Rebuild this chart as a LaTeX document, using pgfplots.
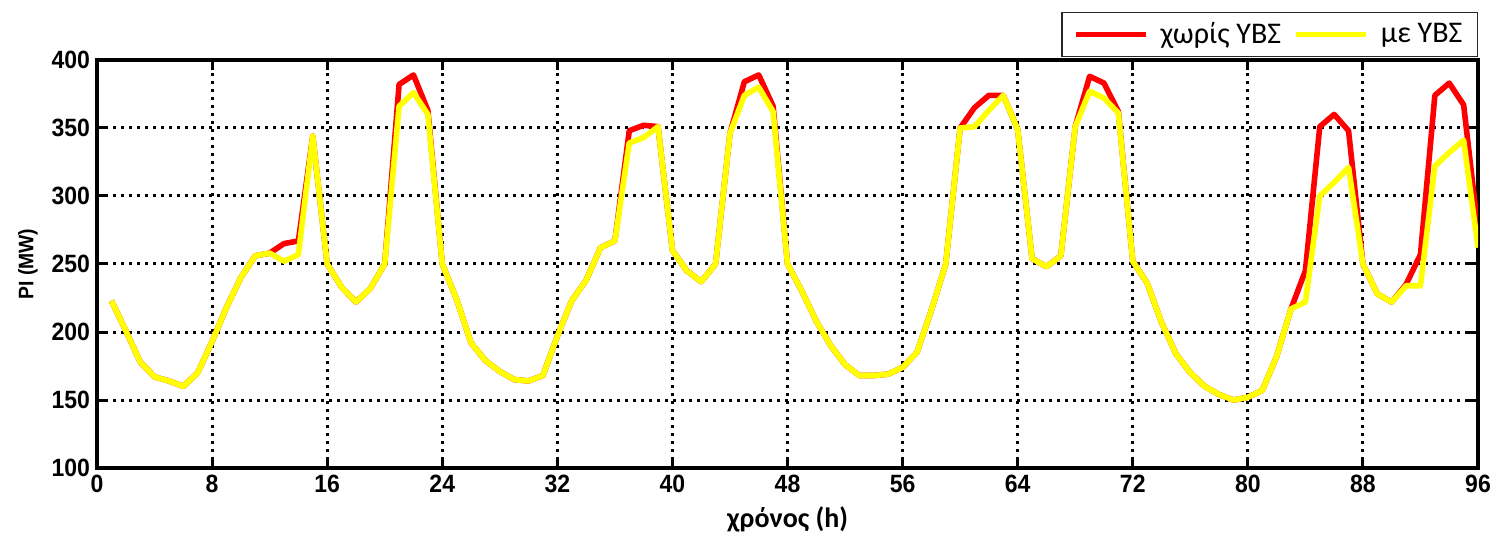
\documentclass[border=0pt]{standalone}
\usepackage{fontspec}
\setmainfont{Liberation Sans}
\newfontfamily\tickfont[FakeStretch=0.92]{Liberation Sans}
\newfontfamily\labfont{Carlito}
\usepackage{pgfplots}
\pgfplotsset{compat=1.18}
\definecolor{myred}{RGB}{255,0,0}
\definecolor{myyel}{RGB}{255,255,0}
\pgfplotstableread{
h red yel
1 223 223
2 201 201
3 178 178
4 167 167
5 164 164
6 160 160
7 170 170
8 193 193
9 218 218
10 240 240
11 256 256
12 258 258
13 265 252
14 267 257
15 344 344
16 250 250
17 233 233
18 222 222
19 232 232
20 250 250
21 382 366
22 389 376
23 363 360
24 250 250
25 224 224
26 192 192
27 179 179
28 171 171
29 165 165
30 164 164
31 168 168
32 197 197
33 223 223
34 238 238
35 262 262
36 267 267
37 348 339
38 352 343
39 351 351
40 260 260
41 245 245
42 237 237
43 250 250
44 346 346
45 384 374
46 389 380
47 366 362
48 250 250
49 230 230
50 208 208
51 190 190
52 176 176
53 168 168
54 168 168
55 169 169
56 174 174
57 185 185
58 216 216
59 250 250
60 350 350
61 365 351
62 374 363
63 374 374
64 349 349
65 254 254
66 248 248
67 256 256
68 351 351
69 388 377
70 383 372
71 362 361
72 252 252
73 236 236
74 207 207
75 184 184
76 170 170
77 160 160
78 154 154
79 150 150
80 152 152
81 157 157
82 182 182
83 217 217
84 245 222
85 351 300
86 360 310
87 348 321
88 250 250
89 228 228
90 222 222
91 235 234
92 257 234
93 374 322
94 383 332
95 367 341
96 275 262
}\datatable
\begin{document}
\begin{tikzpicture}
\useasboundingbox (0,0) rectangle (751pt,270pt);
\begin{axis}[
  at={(48.5pt,36pt)}, anchor=south west,
  scale only axis, width=690.5pt, height=204pt,
  xmin=0, xmax=96, ymin=100, ymax=400,
  xtick={0,8,...,96}, ytick={100,150,...,400},
  tick align=inside,
  major tick length=5pt,
  axis line style={line width=1.8pt, black},
  every tick/.style={black, line width=1.5pt},
  grid=major,
  major grid style={black, line width=1.5pt, dash pattern=on 1.5pt off 2.5pt},
  /pgf/number format/assume math mode=true,
  ticklabel style={font=\tickfont\bfseries\fontsize{12.5}{12.5}\selectfont},
  xlabel={χρόνος (h)},
  ylabel={PI (MW)},
  xlabel style={font=\labfont\bfseries\fontsize{14}{14}\selectfont},
  ylabel style={font=\tickfont\bfseries\fontsize{10.5}{10.5}\selectfont},
  legend columns=2,
  legend image code/.code={\draw[#1] (0pt,0pt) -- (35pt,0pt);},
  legend style={at={(rel axis cs:1,1)}, anchor=south east, yshift=1.5pt,
    draw=black!85, line width=0.6pt, inner xsep=5.5pt, inner ysep=3pt,
    font=\labfont\fontsize{15}{15}\selectfont,
    /tikz/every even column/.append style={column sep=4pt}},
]
\addplot[myred, line width=2.8pt, line join=round] table[x=h, y=red] {\datatable};
\addlegendentry{\hspace{4pt}χωρίς ΥΒΣ}
\addplot[myyel, line width=2.8pt, line join=round] table[x=h, y=yel] {\datatable};
\addlegendentry{\hspace{4pt}με ΥΒΣ}
\end{axis}
\end{tikzpicture}
\end{document}
